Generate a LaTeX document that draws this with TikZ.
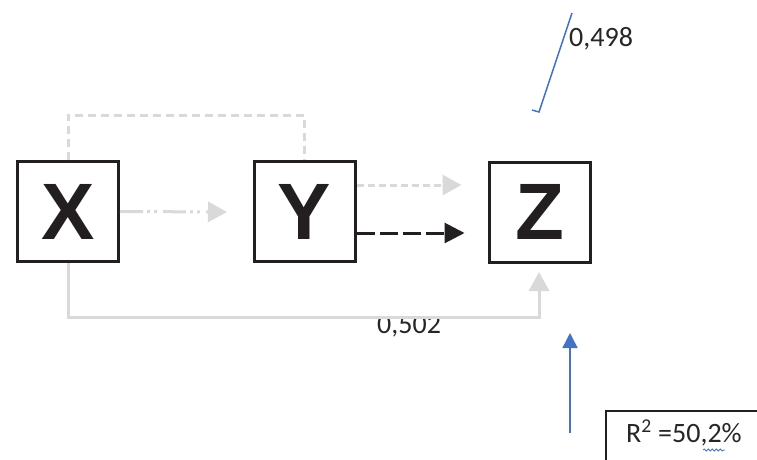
\documentclass[tikz,border=0pt]{standalone}
\usepackage{fontspec}
\setmainfont{Carlito}
\newfontfamily\letterfont{Liberation Sans}
\usetikzlibrary{arrows.meta,decorations.pathmorphing}
\definecolor{ink}{RGB}{35,31,32}
\definecolor{lightgray}{RGB}{217,217,217}
\definecolor{officeblue}{RGB}{68,114,196}
\tikzset{
  var/.style={draw=ink, line width=3pt, minimum width=101pt, minimum height=100pt,
    inner sep=0pt, font=\letterfont\bfseries\fontsize{80}{80}\selectfont, text=ink},
  grayline/.style={draw=lightgray, line width=3pt},
  graytip/.style={-{Triangle[length=19pt,width=20pt]}},
  label/.style={font=\fontsize{28}{28}\selectfont, text=black!85, inner sep=0pt},
  blueline/.style={draw=officeblue, line width=1.5pt},
}
\begin{document}
\begin{tikzpicture}[x=1pt, y=-1pt]
  \clip (0,0) rectangle (757,460);
  \fill[white] (0,0) rectangle (757,460);

  % the three variables
  \node[var] (X) at (68,211.5) {X};
  \node[var] (Y) at (304.5,211.5) {Y};
  \node[var] (Z) at (539.5,212) {Z};

  % free ends of the connectors
  \coordinate (xytip) at (227,212);
  \coordinate (xtop) at (68,115);
  \coordinate (ytop) at (304.5,115);
  \coordinate (xbot) at (68,317);
  \coordinate (zbot) at (539,317);
  \coordinate (zin) at (539,272);

  % X -- Y link above the boxes
  \draw[grayline, dash pattern=on 8pt off 5pt] (X.north) -- (xtop) -- (ytop) -- (Y.north);

  % X -> Y
  \draw[grayline, graytip, dash pattern=on 23pt off 4pt on 3pt off 4pt on 3pt off 6pt]
    (X.east) -- (xytip);

  % Y -> Z, grey and black
  \draw[grayline, graytip, dash pattern=on 7pt off 4pt, shorten >=26pt]
    (Y.east |- 0,185) -- (Z.west |- 0,185);
  \draw[draw=ink, line width=3pt, -{Triangle[length=20pt,width=20pt]},
    dash pattern=on 18pt off 5pt, shorten >=23pt]
    (Y.east |- 0,233) -- (Z.west |- 0,233);

  % coefficient below the X -> Z path, partly hidden by it
  \begin{scope}
    \clip (360,318) rectangle (460,345);
    \node[label, anchor=base west] (c502) at (377,333) {0,502};
  \end{scope}

  % X -> Z
  \draw[grayline, graytip] (X.south) -- (xbot) -- (zbot) -- (zin);

  % coefficient at the top
  \node[label, anchor=base west] (c498) at (569,47) {0,498};
  \coordinate (b1) at (572,13);
  \coordinate (b2) at (539,112);
  \coordinate (b3) at (532,110);
  \draw[blueline] (b1) -- (b2) -- (b3);

  % explained variance
  \coordinate (r1) at (570,433);
  \coordinate (r2) at (570,333);
  \draw[blueline, -{Triangle[length=15pt,width=15pt]}] (r1) -- (r2);
  \draw[draw=ink, line width=1.5pt] (606,411) rectangle (780,480);
  \node[label, anchor=base west] (r2box) at (626,442) {R\textsuperscript{2} =50,2\%};
  \coordinate (w1) at (703,450);
  \coordinate (w2) at (725,450);
  \draw[officeblue, line width=0.8pt, decorate,
    decoration={snake, amplitude=1pt, segment length=4pt}] (w1) -- (w2);
\end{tikzpicture}
\end{document}
